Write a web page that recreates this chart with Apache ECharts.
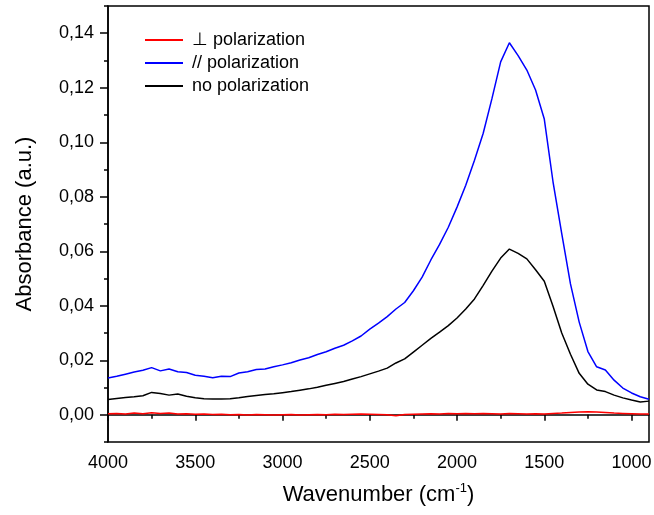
<!DOCTYPE html>
<html>
<head>
<meta charset="utf-8">
<script src="https://cdn.jsdelivr.net/npm/echarts@6/dist/echarts.min.js"></script>
<style>
  html, body { margin: 0; padding: 0; background: #fff; }
  #chart { width: 654px; height: 515px; }
</style>
</head>
<body>
<div id="chart"></div>
<script>
// IR absorbance spectra for three polarization states (wavenumber in cm^-1)
const wavenumbers = [
  4000, 3950, 3900, 3850, 3800, 3750, 3700, 3650, 3600, 3550,
  3500, 3450, 3400, 3350, 3300, 3250, 3200, 3150, 3100, 3050,
  3000, 2950, 2900, 2850, 2800, 2750, 2700, 2650, 2600, 2550,
  2500, 2450, 2400, 2350, 2300, 2250, 2200, 2150, 2100, 2050,
  2000, 1950, 1900, 1850, 1800, 1750, 1700, 1650, 1600, 1550,
  1500, 1450, 1400, 1350, 1300, 1250, 1200, 1150, 1100, 1050,
  1000, 950, 900
];

const perpPolarization = [
  0.0004, 0.0005, 0.0003, 0.0006, 0.0004, 0.0007, 0.0005, 0.0006, 0.0003, 0.0004,
  0.0002, 0.0003, 0.0001, 0.0002, 0.0000, 0.0001, -0.0001, 0.0001, 0.0000, -0.0001,
  0.0000, 0.0001, -0.0001, 0.0000, 0.0001, 0.0000, 0.0002, 0.0001, 0.0002, 0.0003,
  0.0002, 0.0001, 0.0000, -0.0004, 0.0001, 0.0002, 0.0003, 0.0004, 0.0003, 0.0005,
  0.0004, 0.0005, 0.0004, 0.0005, 0.0004, 0.0003, 0.0005, 0.0004, 0.0003, 0.0004,
  0.0003, 0.0005, 0.0006, 0.0008, 0.0010, 0.0011, 0.0010, 0.0008, 0.0006, 0.0005,
  0.0004, 0.0003, 0.0003
];

const parallelPolarization = [
  0.0135, 0.0141, 0.0149, 0.0157, 0.0163, 0.0173, 0.0161, 0.0168, 0.0158, 0.0155,
  0.0145, 0.0141, 0.0136, 0.0141, 0.0140, 0.0153, 0.0158, 0.0166, 0.0168, 0.0176,
  0.0183, 0.0191, 0.0201, 0.0209, 0.0221, 0.0231, 0.0244, 0.0255, 0.0271, 0.0289,
  0.0314, 0.0336, 0.0360, 0.0388, 0.0412, 0.0455, 0.0505, 0.0568, 0.0625, 0.0688,
  0.0762, 0.0842, 0.0934, 0.1033, 0.1160, 0.1295, 0.1365, 0.1318, 0.1265, 0.1192,
  0.1085, 0.0855, 0.0665, 0.0480, 0.0340, 0.0232, 0.0176, 0.0164, 0.0127, 0.0098,
  0.0080, 0.0066, 0.0057
];

const noPolarization = [
  0.0056, 0.0060, 0.0063, 0.0066, 0.0070, 0.0082, 0.0078, 0.0072, 0.0076, 0.0068,
  0.0062, 0.0059, 0.0058, 0.0058, 0.0059, 0.0062, 0.0067, 0.0071, 0.0074, 0.0077,
  0.0081, 0.0085, 0.0090, 0.0095, 0.0101, 0.0108, 0.0115, 0.0122, 0.0131, 0.0140,
  0.0150, 0.0160, 0.0171, 0.0190, 0.0205, 0.0230, 0.0255, 0.0280, 0.0303, 0.0327,
  0.0355, 0.0388, 0.0425, 0.0475, 0.0527, 0.0575, 0.0608, 0.0592, 0.0572, 0.0532,
  0.0490, 0.0398, 0.0300, 0.0222, 0.0152, 0.0112, 0.0091, 0.0085, 0.0072, 0.0062,
  0.0054, 0.0047, 0.0050
];

const seriesNames = ['\u22A5 polarization', '// polarization', 'no polarization'];
const seriesColors = ['#ff0000', '#0000ff', '#000000'];

const xMajorTicks = [4000, 3500, 3000, 2500, 2000, 1500, 1000];
const xMinorTicks = [3750, 3250, 2750, 2250, 1750, 1250];
const yMajorTicks = [0, 0.02, 0.04, 0.06, 0.08, 0.10, 0.12, 0.14];
const yMinorTicks = [-0.01, 0.01, 0.03, 0.05, 0.07, 0.09, 0.11, 0.13, 0.15];

const FONT = '"Liberation Sans", Arial, sans-serif';
const pairs = vals => wavenumbers.map((w, i) => [w, vals[i]]);

const xBase = { type: 'value', min: 900, max: 4000, inverse: true, gridIndex: 0, splitLine: { show: false } };
const yBase = { type: 'value', min: -0.01, max: 0.15, gridIndex: 0, splitLine: { show: false } };

const chart = echarts.init(document.getElementById('chart'), null, { renderer: 'canvas' });
chart.setOption({
  animation: false,
  backgroundColor: '#ffffff',
  grid: {
    left: 108, right: 5, top: 6, bottom: 73,
    containLabel: false,
    outerBoundsMode: 'none',
    show: true, borderColor: '#000', borderWidth: 1.5, backgroundColor: 'transparent'
  },
  legend: {
    orient: 'vertical',
    left: 145, top: 31,
    padding: 0,
    itemWidth: 38, itemHeight: 2, itemGap: 5,
    icon: 'rect',
    textStyle: { fontFamily: FONT, fontSize: 18, color: '#000', lineHeight: 18, padding: [0, 0, 0, 4] },
    data: seriesNames
  },
  xAxis: [
    Object.assign({}, xBase, {
      position: 'bottom',
      name: 'Wavenumber (cm{sup|-1})',
      nameLocation: 'middle',
      nameGap: 40,
      nameTextStyle: {
        fontFamily: FONT, fontSize: 22, color: '#000',
        rich: { sup: { fontFamily: FONT, fontSize: 13, verticalAlign: 'top', lineHeight: 26, padding: [0, 0, 12, 0] } }
      },
      axisLine: { show: true, lineStyle: { color: '#000', width: 1.5 } },
      axisTick: { show: true, inside: false, length: 6, customValues: xMajorTicks, lineStyle: { color: '#000', width: 1.5 } },
      axisLabel: {
        show: true, margin: 12, customValues: xMajorTicks,
        fontFamily: FONT, fontSize: 18, color: '#000',
        formatter: v => String(Math.round(v))
      }
    }),
    Object.assign({}, xBase, {
      position: 'bottom',
      axisLine: { show: false },
      axisTick: { show: true, inside: false, length: 4, customValues: xMinorTicks, lineStyle: { color: '#000', width: 1.5 } },
      axisLabel: { show: false }
    })
  ],
  yAxis: [
    Object.assign({}, yBase, {
      position: 'left',
      name: 'Absorbance (a.u.)',
      nameLocation: 'middle',
      nameGap: 72,
      nameTextStyle: { fontFamily: FONT, fontSize: 22, color: '#000' },
      axisLine: { show: true, lineStyle: { color: '#000', width: 1.5 } },
      axisTick: { show: true, inside: false, length: 8, customValues: yMajorTicks, lineStyle: { color: '#000', width: 1.5 } },
      axisLabel: {
        show: true, margin: 14, customValues: yMajorTicks,
        fontFamily: FONT, fontSize: 18, color: '#000',
        formatter: v => v.toFixed(2).replace('.', ',')
      }
    }),
    Object.assign({}, yBase, {
      position: 'left',
      axisLine: { show: false },
      axisTick: { show: true, inside: false, length: 4, customValues: yMinorTicks, lineStyle: { color: '#000', width: 1.5 } },
      axisLabel: { show: false }
    })
  ],
  series: [perpPolarization, parallelPolarization, noPolarization].map((vals, i) => ({
    name: seriesNames[i],
    type: 'line',
    xAxisIndex: 0,
    yAxisIndex: 0,
    data: pairs(vals),
    symbol: 'none',
    lineStyle: { color: seriesColors[i], width: 1.5 },
    itemStyle: { color: seriesColors[i] },
    z: 3 - i
  }))
});
</script>
</body>
</html>
